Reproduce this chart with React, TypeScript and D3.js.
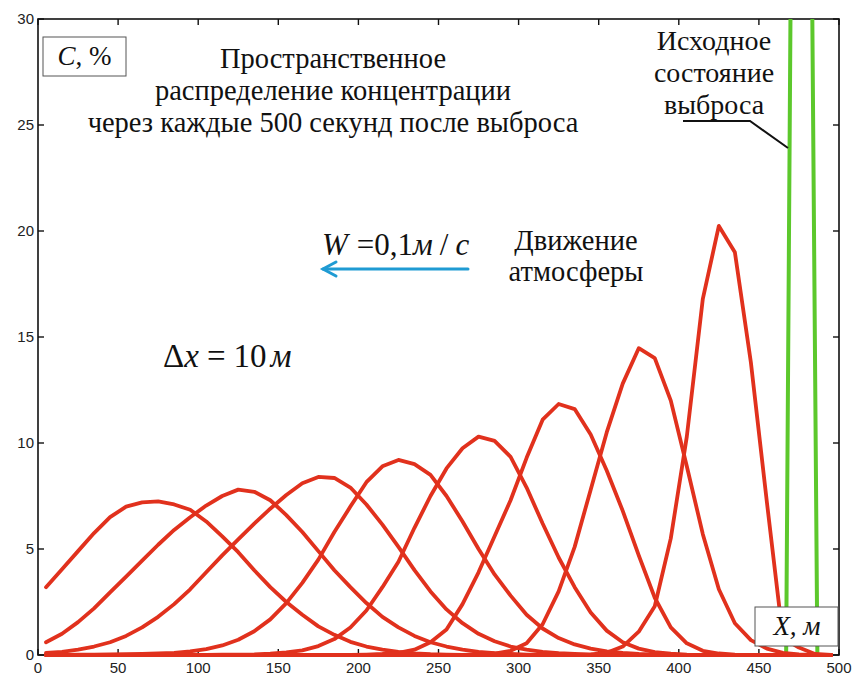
import React from 'react';
import * as d3 from 'd3';

// сетка по X, шаг 10 м
const xGrid = [
	5, 15, 25, 35, 45, 55, 65, 75, 85, 95,
	105, 115, 125, 135, 145, 155, 165, 175, 185, 195,
	205, 215, 225, 235, 245, 255, 265, 275, 285, 295,
	305, 315, 325, 335, 345, 355, 365, 375, 385, 395,
	405, 415, 425, 435, 445, 455, 465, 475, 485, 495,
];

// концентрация, % — через каждые 500 с
const c500 = [
	0, 0, 0, 0, 0, 0, 0, 0, 0, 0,
	0, 0, 0, 0, 0, 0, 0, 0, 0, 0,
	0, 0, 0, 0, 0, 0, 0, 0, 0, 0,
	0, 0, 0, 0.01, 0.03, 0.1, 0.4, 1.1, 2.3, 5.5,
	10.3, 16.8, 20.24, 19.0, 13.8, 7.2, 0.8, 0.35, 0.05, 0,
];
const c1000 = [
	0, 0, 0, 0, 0, 0, 0, 0, 0, 0,
	0, 0, 0, 0, 0, 0, 0, 0, 0, 0,
	0, 0, 0, 0, 0, 0, 0.01, 0.03, 0.07, 0.2,
	0.55, 1.45, 3.0, 5.1, 7.8, 10.5, 12.8, 14.47, 14.0, 12.0,
	8.9, 5.7, 3.1, 1.5, 0.7, 0.3, 0.1, 0.03, 0, 0,
];
const c1500 = [
	0, 0, 0, 0, 0, 0, 0, 0, 0, 0,
	0, 0, 0, 0, 0, 0, 0, 0, 0, 0,
	0.02, 0.05, 0.1, 0.25, 0.6, 1.2, 2.4, 3.9, 5.6, 7.3,
	9.3, 11.1, 11.84, 11.6, 10.4, 8.7, 6.8, 4.7, 2.7, 1.3,
	0.55, 0.2, 0.07, 0.02, 0, 0, 0, 0, 0, 0,
];
const c2000 = [
	0, 0, 0, 0, 0, 0, 0, 0, 0, 0.01,
	0.01, 0.02, 0.02, 0.03, 0.06, 0.12, 0.22, 0.42, 0.75, 1.3,
	2.1, 3.2, 4.4, 6.0, 7.5, 8.8, 9.75, 10.3, 10.1, 9.35,
	7.9, 6.2, 4.6, 3.2, 2.0, 1.15, 0.6, 0.3, 0.14, 0.06,
	0.02, 0, 0, 0, 0, 0, 0, 0, 0, 0,
];
const c2500 = [
	0.01, 0.01, 0.02, 0.02, 0.03, 0.04, 0.05, 0.07, 0.1, 0.17,
	0.28, 0.45, 0.72, 1.12, 1.68, 2.45, 3.4, 4.5, 5.8, 7.0,
	8.15, 8.9, 9.2, 9.0, 8.5, 7.5, 6.3, 5.0, 3.8, 2.8,
	1.9, 1.25, 0.8, 0.5, 0.3, 0.17, 0.1, 0.05, 0.02, 0,
	0, 0, 0, 0, 0, 0, 0, 0, 0, 0,
];
const c3000 = [
	0.1, 0.15, 0.25, 0.4, 0.6, 0.9, 1.3, 1.8, 2.4, 3.1,
	3.9, 4.7, 5.45, 6.2, 6.9, 7.55, 8.1, 8.4, 8.35, 7.9,
	7.1, 6.15, 5.1, 4.0, 3.0, 2.15, 1.5, 1.0, 0.65, 0.4,
	0.25, 0.15, 0.09, 0.05, 0.02, 0, 0, 0, 0, 0,
	0, 0, 0, 0, 0, 0, 0, 0, 0, 0,
];
const c3500 = [
	0.6, 1.0, 1.55, 2.2, 2.95, 3.7, 4.45, 5.2, 5.9, 6.5,
	7.05, 7.5, 7.8, 7.7, 7.3, 6.6, 5.8, 4.9, 4.0, 3.2,
	2.45, 1.8, 1.3, 0.9, 0.6, 0.4, 0.25, 0.15, 0.09, 0.05,
	0.02, 0, 0, 0, 0, 0, 0, 0, 0, 0,
	0, 0, 0, 0, 0, 0, 0, 0, 0, 0,
];
const c4000 = [
	3.2, 4.05, 4.9, 5.75, 6.5, 7.0, 7.2, 7.25, 7.1, 6.85,
	6.3, 5.6, 4.85, 4.0, 3.2, 2.5, 1.9, 1.35, 0.95, 0.62,
	0.4, 0.25, 0.15, 0.08, 0.04, 0.02, 0, 0, 0, 0,
	0, 0, 0, 0, 0, 0, 0, 0, 0, 0,
	0, 0, 0, 0, 0, 0, 0, 0, 0, 0,
];
const redSeries = [c4000, c3500, c3000, c2500, c2000, c1500, c1000, c500];

// исходное состояние выброса
const initX = [467, 476, 486.5];
const initY = [0, 100, 0];

const xTicks = [0, 50, 100, 150, 200, 250, 300, 350, 400, 450, 500];
const yTicks = [0, 5, 10, 15, 20, 25, 30];

const titleLines = ['Пространственное', 'распределение концентрации', 'через каждые 500 секунд после выброса'];
const initLines = ['Исходное', 'состояние', 'выброса'];
const windLines = ['Движение', 'атмосферы'];

const SERIF = '"Liberation Serif", "Times New Roman", serif';
const SANS = '"Liberation Sans", Arial, sans-serif';
const RED = '#e1311d';
const GREEN = '#5cc82c';
const BLUE = '#1f9bd3';

export default function App() {
	const width = 856;
	const height = 680;
	const x = d3.scaleLinear().domain([0, 500]).range([38, 839]);
	const y = d3.scaleLinear().domain([0, 30]).range([655, 19]);

	const line = d3.line<[number, number]>().x(d => x(d[0])).y(d => y(d[1]));
	const initPath = line(initX.map((v, i) => [v, initY[i]] as [number, number]));

	const x0 = x(0), x1 = x(500), y0 = y(0), y1 = y(30);
	const tk = 6;
	const serif = { fontFamily: SERIF };
	const sans = { fontFamily: SANS };

	return (
		<svg width={width} height={height} style={{ position: 'absolute', left: 0, top: 0, background: '#fff' }}>
			<defs>
				<clipPath id="plot">
					<rect x={x0} y={y1} width={x1 - x0} height={y0 - y1} />
				</clipPath>
			</defs>
			<rect width={width} height={height} fill="#fff" />

			{/* рамка и деления */}
			<rect x={x0} y={y1} width={x1 - x0} height={y0 - y1} fill="none" stroke="#111" strokeWidth={1.6} />
			{xTicks.map(t => (
				<g key={'x' + t}>
					<line x1={x(t)} x2={x(t)} y1={y0} y2={y0 - tk} stroke="#111" strokeWidth={1.4} />
					<line x1={x(t)} x2={x(t)} y1={y1} y2={y1 + tk} stroke="#111" strokeWidth={1.4} />
					<text x={x(t)} y={y0 + 18} textAnchor="middle" style={sans} fontSize={15} fill="#222">{t}</text>
				</g>
			))}
			{yTicks.map(t => (
				<g key={'y' + t}>
					<line x1={x0} x2={x0 + tk} y1={y(t)} y2={y(t)} stroke="#111" strokeWidth={1.4} />
					<line x1={x1} x2={x1 - tk} y1={y(t)} y2={y(t)} stroke="#111" strokeWidth={1.4} />
					<text x={x0 - 4} y={y(t)} dy="0.35em" textAnchor="end" style={sans} fontSize={15} fill="#222">{t}</text>
				</g>
			))}

			{/* исходное состояние */}
			<path d={initPath || ''} fill="none" stroke={GREEN} strokeWidth={4} clipPath="url(#plot)" />

			{/* распределения */}
			{redSeries.map((s, k) => (
				<path key={k} d={line(xGrid.map((v, i) => [v, s[i]] as [number, number])) || ''}
					fill="none" stroke={RED} strokeWidth={3.8} strokeLinejoin="round" strokeLinecap="round" />
			))}

			{/* подписи */}
			<g fill="#111">
				{titleLines.map((s, i) => (
					<text key={s} x={333} y={68 + i * 32} textAnchor="middle" style={serif} fontSize={28.5}>{s}</text>
				))}
				{initLines.map((s, i) => (
					<text key={s} x={714} y={50 + i * 32} textAnchor="middle" style={serif} fontSize={28}>{s}</text>
				))}
				{windLines.map((s, i) => (
					<text key={s} x={576} y={250 + i * 31} textAnchor="middle" style={serif} fontSize={28.5}>{s}</text>
				))}
				<text x={322} y={255} style={serif} fontSize={31}>
					<tspan fontStyle="italic">W</tspan>
					<tspan dx={9}>=0,1</tspan>
					<tspan fontStyle="italic">м</tspan>
					<tspan dx={7}>/</tspan>
					<tspan dx={7} fontStyle="italic">с</tspan>
				</text>
				<text x={163} y={367} style={serif} fontSize={33}>
					<tspan>Δ</tspan>
					<tspan fontStyle="italic">x</tspan>
					<tspan dx={8}>=</tspan>
					<tspan dx={8}>10</tspan>
					<tspan dx={4} fontStyle="italic">м</tspan>
				</text>
			</g>

			{/* выноска */}
			<polyline points="683,121 750,121 788,148" fill="none" stroke="#111" strokeWidth={2} />

			{/* стрелка ветра */}
			<g stroke={BLUE} strokeWidth={3} fill="none" strokeLinecap="round">
				<line x1={468} y1={269} x2={323} y2={269} />
				<polyline points="336,262 323,269 336,276" />
			</g>

			{/* оси-подписи в рамках */}
			<g fill="#111">
				<rect x={43} y={37} width={83} height={39} fill="#fff" stroke="#555" strokeWidth={1} />
				<text x={84.5} y={65} textAnchor="middle" style={serif} fontSize={27}>
					<tspan fontStyle="italic">C</tspan>, %
				</text>
				<rect x={755} y={607} width={83} height={39} fill="#fff" stroke="#555" strokeWidth={1} />
				<text x={797} y={635} textAnchor="middle" style={serif} fontSize={27} fontStyle="italic">X, м</text>
			</g>
		</svg>
	);
}
